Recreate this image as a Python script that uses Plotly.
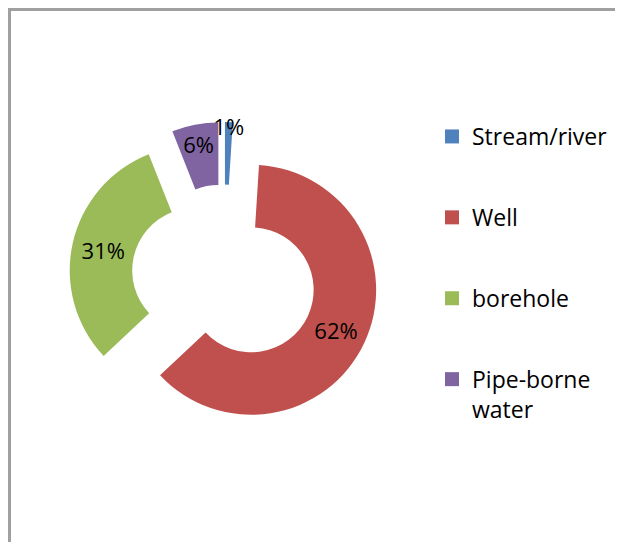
import plotly.graph_objects as go

# water source shares (%)
labels = ["Stream/river", "Well", "borehole", "Pipe-borne<br>water"]
values = [1, 62, 31, 6]
colors = ["#4F81BD", "#C0504D", "#9BBB59", "#8064A2"]

FONT = "Open Sans"
# the page body adds an 8px margin, so the figure is that much smaller
W, H = 615, 534

fig = go.Figure()

fig.add_trace(
    go.Pie(
        labels=labels,
        values=values,
        sort=False,
        direction="clockwise",
        rotation=0,
        hole=0.5,
        pull=[0.24] * len(values),
        marker=dict(colors=colors, line=dict(width=0)),
        texttemplate="%{percent:.0%}",
        textposition="inside",
        insidetextorientation="horizontal",
        textfont=dict(family=FONT, size=22, color="black"),
        showlegend=False,
        domain=dict(x=[61 / W, 371 / W], y=[1 - 424 / H, 1 - 114 / H]),
    )
)

# legend entries, one group each so the gap between them can be set
for name, color in zip(labels, colors):
    fig.add_trace(
        go.Scatter(
            x=[None],
            y=[None],
            mode="markers",
            name=name,
            legendgroup=name,
            marker=dict(symbol="square", size=14, color=color),
            showlegend=True,
        )
    )

# chart frame: only the left and top edges show in the crop
frame = dict(color="#a0a0a0", width=3)
fig.add_shape(type="line", xref="paper", yref="paper",
              x0=1.5 / W, x1=1.5 / W, y0=0, y1=1 - 1.5 / H, line=frame)
fig.add_shape(type="line", xref="paper", yref="paper",
              x0=0, x1=1, y0=1 - 1.5 / H, y1=1 - 1.5 / H, line=frame)

fig.update_layout(
    width=W,
    height=H,
    margin=dict(l=0, r=0, t=0, b=0),
    paper_bgcolor="white",
    plot_bgcolor="white",
    uniformtext=dict(mode="show", minsize=22),
    xaxis=dict(visible=False),
    yaxis=dict(visible=False),
    legend=dict(
        x=424 / W,
        xanchor="left",
        y=1 - 107 / H,
        yanchor="top",
        valign="top",
        tracegroupgap=48,
        font=dict(family=FONT, size=23, color="black"),
        bgcolor="rgba(0,0,0,0)",
    ),
)

fig.write_html("out.html", config={"displayModeBar": False})
